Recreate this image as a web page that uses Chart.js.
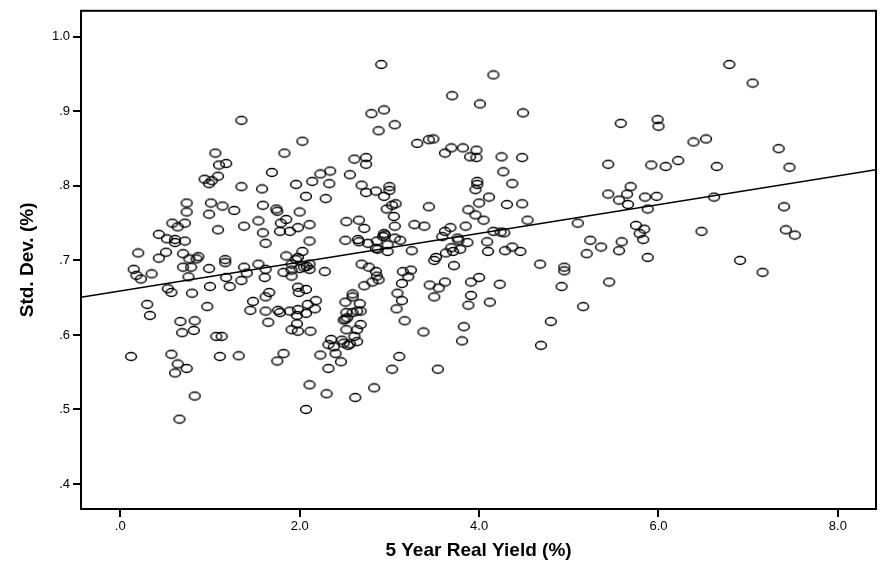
<!DOCTYPE html>
<html>
<head>
<meta charset="utf-8">
<script src="https://cdn.jsdelivr.net/npm/chart.js@4.4.0/dist/chart.umd.min.js"></script>
<style>
  html, body { margin: 0; padding: 0; background: #fff; }
  #wrap { width: 886px; height: 566px; }
</style>
</head>
<body>
<div id="wrap"><canvas id="scatterChart"></canvas></div>
<script>
// 5 year real yield (%) per observation
var yieldVals = [
    0.15, 0.18, 0.23, 0.35, 0.70, 0.79, 0.99, 1.17, 1.38, 1.54,
    1.62, 1.41, 1.82, 0.76, 1.18, 1.35, 1.61, 0.53, 0.57, 0.80,
    1.00, 1.22, 1.66, 1.62, 1.48, 0.30, 0.33, 0.97, 1.45, 1.62,
    1.76, 1.78, 1.65, 0.67, 0.83, 0.69, 0.82, 1.07, 1.13, 0.12,
    0.57, 0.64, 0.74, 0.61, 1.11, 1.32, 1.75, 1.82, 0.83, 0.66,
    1.35, 1.06, 1.83, 1.10, 1.18, 1.69, 0.94, 1.02, 0.99, 1.09,
    1.35, 1.58, 0.74, 1.01, 1.14, 1.27, 1.59, 1.74, 1.75, 0.74,
    0.99, 0.58, 0.64, 0.72, 1.54, 1.79, 1.85, 1.38, 1.09, 1.59,
    1.78, 0.43, 0.52, 0.61, 0.61, 0.72, 1.62, 0.20, 0.51, 0.70,
    0.43, 0.77, 0.85, 0.87, 1.17, 1.85,
    2.91, 3.70, 4.01, 2.80, 2.94, 3.06, 2.88, 2.03, 3.31, 3.44,
    3.49, 3.62, 3.69, 3.82, 3.97, 3.90, 3.97, 2.61, 2.74, 2.74,
    2.34, 2.23, 2.56, 2.14, 2.33, 1.96, 2.69, 3.00, 3.00, 2.85,
    2.74, 2.94, 3.98, 3.98, 3.96, 2.07, 2.29, 3.44, 3.07, 3.03,
    2.97, 2.00, 3.05, 3.88, 3.96, 4.00, 2.52, 2.66, 2.11, 1.98,
    3.06, 3.28, 3.39, 2.72, 3.85, 3.68, 3.62, 1.89, 2.11, 2.51,
    2.65, 2.66, 2.94, 2.95, 2.93, 3.06, 3.12, 2.86, 2.76, 2.98,
    3.59, 3.76, 3.77, 3.87, 2.85, 2.87, 2.98, 3.25, 3.69, 3.79,
    3.63, 3.71, 3.52, 3.50, 2.03, 1.98, 1.96, 2.69, 2.77, 2.85,
    3.72, 3.15, 3.24, 2.28, 1.91, 1.91, 2.00, 2.05, 2.08, 2.11,
    2.11,
    1.91, 2.86, 2.88, 2.81, 2.72, 3.21, 3.14, 3.45, 3.55, 3.62,
    3.50, 3.91, 4.00, 3.91, 3.88, 3.83, 3.81, 3.09, 3.14, 3.08,
    3.17, 3.38, 3.11, 3.03, 3.54, 2.83, 2.62, 2.30, 2.11, 2.07,
    1.98, 1.99, 2.07, 2.18, 2.09, 2.17, 1.89, 1.98, 1.97, 2.07,
    1.97, 1.91, 1.98, 2.12, 2.59, 2.59, 2.51, 2.67, 2.52, 2.59,
    2.64, 2.68, 2.49, 2.51, 2.53, 2.68, 2.52, 2.64, 2.35, 2.32,
    2.38, 2.47, 2.49, 2.54, 2.56, 2.61, 2.64, 2.40, 2.46, 2.23,
    2.32,
    4.16, 4.49, 5.58, 5.99, 6.00, 4.25, 4.48, 4.27, 5.44, 5.92,
    6.08, 4.37, 5.69, 5.44, 5.65, 5.56, 5.66, 5.85, 5.98, 5.88,
    4.11, 4.31, 4.48, 4.05, 4.54, 5.10, 4.16, 4.24, 4.28, 5.75,
    5.84, 5.79, 5.83, 4.09, 5.24, 5.36, 5.59, 5.56, 4.10, 4.29,
    4.37, 4.46, 5.20, 4.68, 4.95, 4.95, 5.88,
    4.23, 4.92, 5.45, 4.12, 5.16, 4.80, 4.69,
    6.79, 7.05, 6.39, 6.53, 7.34, 6.22, 6.65, 7.46, 6.62, 7.40,
    6.48, 7.42, 7.52, 6.91, 7.16
];

// Std. dev. (%) per observation, same order
var stdDevVals = [
    0.688, 0.680, 0.675, 0.682, 0.691, 0.691, 0.689, 0.697, 0.691, 0.695,
    0.688, 0.683, 0.684, 0.678, 0.677, 0.673, 0.677, 0.662, 0.657, 0.656,
    0.665, 0.665, 0.657, 0.651, 0.645, 0.641, 0.626, 0.638, 0.633, 0.632,
    0.633, 0.630, 0.617, 0.618, 0.619, 0.603, 0.606, 0.598, 0.598, 0.571,
    0.574, 0.561, 0.555, 0.549, 0.571, 0.572, 0.565, 0.575, 0.518, 0.487,
    0.888, 0.844, 0.844, 0.828, 0.830, 0.818, 0.809, 0.807, 0.803, 0.813,
    0.799, 0.796, 0.777, 0.777, 0.773, 0.767, 0.774, 0.769, 0.766, 0.765,
    0.762, 0.750, 0.745, 0.750, 0.753, 0.750, 0.755, 0.746, 0.741, 0.737,
    0.739, 0.735, 0.729, 0.728, 0.724, 0.726, 0.723, 0.710, 0.711, 0.709,
    0.703, 0.702, 0.702, 0.705, 0.701, 0.706,
    0.963, 0.921, 0.910, 0.897, 0.902, 0.882, 0.874, 0.860, 0.857, 0.862,
    0.863, 0.844, 0.851, 0.851, 0.848, 0.839, 0.838, 0.836, 0.838, 0.829,
    0.820, 0.816, 0.815, 0.806, 0.803, 0.802, 0.801, 0.799, 0.794, 0.793,
    0.791, 0.786, 0.806, 0.802, 0.795, 0.786, 0.783, 0.772, 0.776, 0.774,
    0.769, 0.765, 0.759, 0.768, 0.761, 0.777, 0.752, 0.754, 0.748, 0.744,
    0.746, 0.748, 0.746, 0.743, 0.746, 0.744, 0.739, 0.739, 0.726, 0.727,
    0.728, 0.725, 0.736, 0.734, 0.732, 0.730, 0.727, 0.726, 0.723, 0.721,
    0.732, 0.730, 0.727, 0.724, 0.716, 0.715, 0.712, 0.713, 0.717, 0.715,
    0.710, 0.712, 0.704, 0.700, 0.712, 0.704, 0.701, 0.695, 0.691, 0.685,
    0.693, 0.685, 0.687, 0.685, 0.695, 0.687, 0.689, 0.691, 0.692, 0.695,
    0.688,
    0.679, 0.679, 0.674, 0.671, 0.666, 0.678, 0.669, 0.667, 0.663, 0.671,
    0.651, 0.671, 0.677, 0.653, 0.640, 0.611, 0.592, 0.656, 0.646, 0.635,
    0.619, 0.604, 0.571, 0.554, 0.554, 0.529, 0.516, 0.521, 0.533, 0.500,
    0.664, 0.657, 0.661, 0.646, 0.641, 0.635, 0.632, 0.634, 0.626, 0.629,
    0.615, 0.607, 0.605, 0.605, 0.655, 0.651, 0.644, 0.642, 0.630, 0.630,
    0.632, 0.632, 0.620, 0.621, 0.623, 0.614, 0.607, 0.607, 0.594, 0.587,
    0.584, 0.593, 0.589, 0.586, 0.588, 0.598, 0.591, 0.575, 0.564, 0.573,
    0.555,
    0.949, 0.898, 0.884, 0.889, 0.880, 0.839, 0.838, 0.819, 0.829, 0.828,
    0.826, 0.803, 0.799, 0.789, 0.789, 0.781, 0.775, 0.785, 0.786, 0.769,
    0.785, 0.775, 0.776, 0.754, 0.754, 0.750, 0.739, 0.738, 0.737, 0.747,
    0.742, 0.736, 0.728, 0.725, 0.727, 0.718, 0.725, 0.713, 0.712, 0.713,
    0.718, 0.712, 0.709, 0.695, 0.691, 0.686, 0.704,
    0.668, 0.665, 0.671, 0.644, 0.638, 0.618, 0.586,
    0.963, 0.938, 0.859, 0.863, 0.850, 0.834, 0.826, 0.825, 0.785, 0.772,
    0.739, 0.741, 0.734, 0.700, 0.684
];

// fitted line, read at the two edges of the plot
var fitX = [-0.438, 8.425];
var fitY = [0.6506, 0.8216];

var xTicks = [0, 2, 4, 6, 8];
var xTickLabels = ['.0', '2.0', '4.0', '6.0', '8.0'];
var yTicks = [0.4, 0.5, 0.6, 0.7, 0.8, 0.9, 1.0];
var yTickLabels = ['.4', '.5', '.6', '.7', '.8', '.9', '1.0'];

var fontFam = "'Liberation Sans', Arial, sans-serif";

var points = [];
for (let i = 0; i < yieldVals.length; i++) {
    points.push({ x: yieldVals[i], y: stdDevVals[i] });
}
var fitLine = [];
for (let i = 0; i < fitX.length; i++) {
    fitLine.push({ x: fitX[i], y: fitY[i] });
}

// hollow oval marker like the SPSS one
function ringMarker() {
    var c = document.createElement('canvas');
    c.width = 14;
    c.height = 11;
    var g = c.getContext('2d');
    g.beginPath();
    g.ellipse(7, 5.5, 5.4, 3.9, 0, 0, Math.PI * 2);
    g.lineWidth = 1.5;
    g.strokeStyle = '#000';
    g.stroke();
    return c;
}

var framePlugin = {
    id: 'frame',
    afterDraw: function (chart) {
        var a = chart.chartArea;
        var g = chart.ctx;
        g.save();
        g.strokeStyle = '#000';
        g.lineWidth = 2;
        g.strokeRect(a.left, a.top, a.right - a.left, a.bottom - a.top);
        g.restore();
    }
};

var ctx = document.getElementById('scatterChart').getContext('2d');
var scatterChart = new Chart(ctx, {
    type: 'scatter',
    data: {
        datasets: [
            {
                data: points,
                pointStyle: ringMarker(),
                pointRadius: 6,
                showLine: false,
                order: 1
            },
            {
                type: 'line',
                data: fitLine,
                borderColor: '#000',
                borderWidth: 1.5,
                pointRadius: 0,
                fill: false,
                order: 0
            }
        ]
    },
    options: {
        responsive: true,
        maintainAspectRatio: false,
        animation: false,
        layout: {
            padding: { top: 6, right: 10, left: 0, bottom: 0 }
        },
        plugins: {
            legend: { display: false },
            tooltip: { enabled: false }
        },
        scales: {
            x: {
                type: 'linear',
                position: 'bottom',
                min: -0.438,
                max: 8.425,
                afterBuildTicks: function (s) {
                    s.ticks = xTicks.map(function (v) { return { value: v }; });
                },
                afterFit: function (s) { s.height = 57; },
                ticks: {
                    callback: function (v, i) { return xTickLabels[i]; },
                    color: '#000',
                    font: { family: fontFam, size: 13 },
                    padding: 2,
                    maxRotation: 0,
                    autoSkip: false
                },
                grid: {
                    drawOnChartArea: false,
                    drawTicks: true,
                    tickLength: 8,
                    color: '#000',
                    lineWidth: 2
                },
                border: { display: true, color: '#000', width: 2 },
                title: {
                    display: true,
                    text: '5 Year Real Yield (%)',
                    color: '#000',
                    font: { family: fontFam, size: 19, weight: 'bold' },
                    padding: { top: 0, bottom: 4 }
                }
            },
            y: {
                type: 'linear',
                min: 0.3664,
                max: 1.035,
                afterBuildTicks: function (s) {
                    s.ticks = yTicks.map(function (v) { return { value: v }; });
                },
                afterFit: function (s) { s.width = 81; },
                ticks: {
                    callback: function (v, i) { return yTickLabels[i]; },
                    color: '#000',
                    font: { family: fontFam, size: 13 },
                    padding: 3,
                    autoSkip: false
                },
                grid: {
                    drawOnChartArea: false,
                    drawTicks: true,
                    tickLength: 8,
                    color: '#000',
                    lineWidth: 2
                },
                border: { display: true, color: '#000', width: 2 },
                title: {
                    display: true,
                    text: 'Std. Dev. (%)',
                    color: '#000',
                    font: { family: fontFam, size: 19, weight: 'bold' },
                    padding: { top: 16, bottom: 0 }
                }
            }
        }
    },
    plugins: [framePlugin]
});
</script>
</body>
</html>
